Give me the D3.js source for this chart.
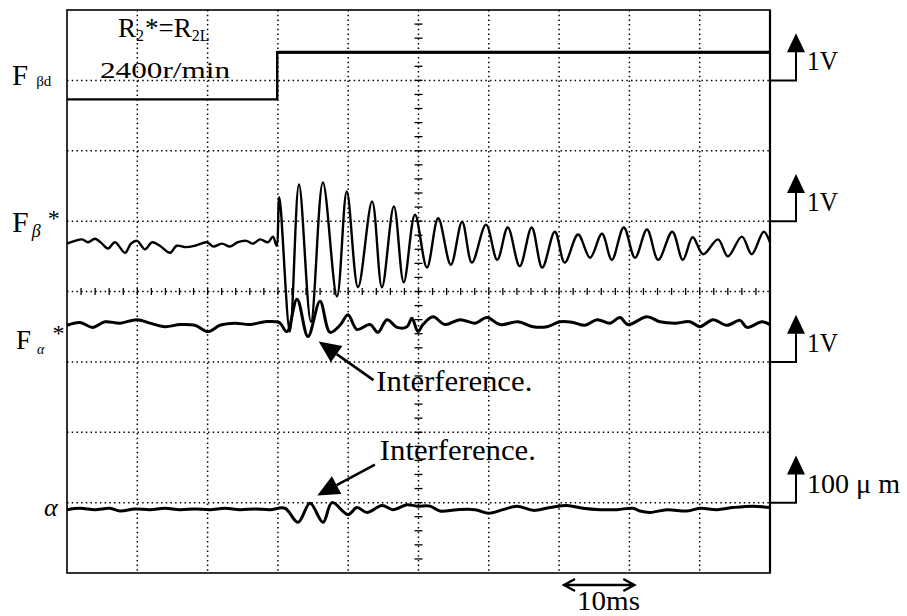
<!DOCTYPE html>
<html>
<head>
<meta charset="utf-8">
<script src="https://cdn.jsdelivr.net/npm/d3@7"></script>
<style>
  html, body { margin: 0; padding: 0; background: #fff; }
</style>
</head>
<body>
<svg id="chart" width="907" height="616" font-family="'Liberation Serif', 'DejaVu Serif', 'Times New Roman', serif"></svg>
<script>
// ---- Data: time in ms (10 ms per division), amplitude in screen divisions ----
const timeTicks = d3.range(10, 100, 10);
const divTicks = d3.range(-3, 4, 1);

// Command step F_beta_d
const fBetaD = [[0, 2.73], [29.9, 2.73], [29.9, 3.40], [100, 3.40]];

// Estimated F_beta*
const fBetaStar = [
  [0,0.68],[1.14,0.72],[2.13,0.74],[3.0,0.70],[3.98,0.75],[4.98,0.68],[5.83,0.61],[6.83,0.70],
  [8.25,0.55],[9.1,0.68],[9.96,0.72],[11.1,0.60],[12.1,0.70],[13.2,0.65],[14.65,0.55],[15.6,0.65],
  [16.9,0.63],[18.2,0.65],[19.9,0.70],[20.8,0.64],[22.05,0.68],[23.2,0.64],[24.3,0.70],[25.5,0.72],
  [26.45,0.68],[27.45,0.74],[28.6,0.70],[29.3,0.78],[29.8,0.65],
  [30.2,1.34],[31.7,-0.57],[33.0,1.52],[34.7,-0.43],[36.4,1.55],[38.4,-0.07],[39.8,1.42],[41.4,0.06],
  [43.4,1.28],[44.8,0.06],[46.5,1.21],[47.9,0.13],[49.5,1.09],[51.2,0.34],[52.8,1.04],[54.6,0.38],
  [56.2,0.99],[57.6,0.41],[59.6,0.95],[61.2,0.45],[62.7,0.91],[64.4,0.36],[66.1,0.91],[67.6,0.34],
  [69.4,0.85],[70.8,0.41],[72.7,0.81],[74.4,0.48],[76.1,0.82],[77.5,0.45],[79.2,0.91],[80.8,0.48],
  [82.5,0.88],[84.1,0.45],[86.1,0.85],[87.6,0.45],[89.0,0.77],[90.5,0.53],[92.6,0.74],[94.0,0.50],
  [96.0,0.78],[97.4,0.53],[99.1,0.85],[100,0.70]
];

// Estimated F_alpha*
const fAlphaStar = [
  [0,-0.48],[1.85,-0.44],[3.70,-0.51],[5.41,-0.43],[7.54,-0.45],[9.96,-0.40],[11.81,-0.45],[13.94,-0.50],
  [16.07,-0.47],[18.21,-0.48],[20.06,-0.57],[21.76,-0.48],[23.90,-0.45],[26.03,-0.47],[28.17,-0.43],
  [30.16,-0.44],[31.29,-0.57],[32.72,-0.11],[34.28,-0.64],[35.99,-0.14],[37.41,-0.58],[38.83,-0.48],
  [39.97,-0.33],[41.25,-0.54],[43.10,-0.47],[44.24,-0.58],[45.52,-0.40],[46.94,-0.51],[48.36,-0.50],
  [49.07,-0.38],[49.93,-0.57],[50.64,-0.47],[52.06,-0.36],[53.77,-0.47],[55.90,-0.40],[58.04,-0.45],
  [59.74,-0.37],[61.59,-0.47],[64.15,-0.43],[66.29,-0.50],[68.28,-0.50],[70.13,-0.43],[71.98,-0.44],
  [73.68,-0.48],[75.39,-0.40],[77.24,-0.45],[78.66,-0.37],[79.80,-0.47],[82.50,-0.36],[84.35,-0.43],
  [86.49,-0.45],[88.62,-0.43],[90.04,-0.50],[91.89,-0.40],[93.88,-0.48],[95.73,-0.41],[96.73,-0.51],
  [98.86,-0.43],[100,-0.47]
];

// Rotor displacement alpha
const alphaDisp = [
  [0,-3.10],[1.85,-3.08],[3.98,-3.10],[6.12,-3.08],[7.54,-3.12],[9.67,-3.09],[11.81,-3.10],[13.94,-3.08],
  [16.07,-3.10],[18.21,-3.09],[20.34,-3.10],[22.48,-3.08],[24.61,-3.10],[26.74,-3.09],[28.88,-3.10],
  [31.01,-3.08],[32.86,-3.28],[34.57,-3.01],[36.42,-3.28],[37.70,-3.00],[39.97,-3.17],[41.25,-3.07],
  [42.67,-3.14],[44.81,-3.04],[46.37,-3.10],[48.36,-3.03],[49.79,-3.05],[51.64,-3.05],[53.06,-3.12],
  [55.48,-3.10],[58.04,-3.10],[59.89,-3.15],[62.02,-3.10],[64.01,-3.05],[66.29,-3.11],[68.71,-3.07],
  [71.12,-3.04],[73.40,-3.08],[75.82,-3.10],[78.24,-3.10],[80.51,-3.08],[81.51,-3.12],[82.93,-3.14],
  [85.35,-3.10],[88.19,-3.12],[90.04,-3.08],[92.46,-3.10],[94.74,-3.07],[97.58,-3.05],[100,-3.07]
];

// Channel ground levels (divisions) and scale markers
const channelLevels = [3.0, 1.0, -1.0, -3.0];
const channelScales = ["1V", "1V", "1V", "100 μ m"];
const scaleWidths = [31, 31, 31, 93];

// Annotation arrows: [tail t, tail v, tip t, tip v]
const noteArrows = [[43.6, -1.26, 35.8, -0.71], [43.8, -2.46, 35.6, -2.90]];
const noteText = "Interference.";
const noteAnchors = [[44.0, -1.42], [44.5, -2.39]];

// Time scale bar (ms)
const timeBar = [70.7, 80.7];

// ---- Drawing ----
const svg = d3.select("#chart");
svg.append("rect").attr("width", 907).attr("height", 616).attr("fill", "#fff");

const x = d3.scaleLinear().domain([0, 100]).range([67, 770]);
const y = d3.scaleLinear().domain([-4, 4]).range([573, 10]);

const grid = svg.append("g").attr("stroke", "#000").attr("stroke-width", 1.5)
  .attr("stroke-dasharray", "1.5,3.2").attr("fill", "none");
grid.selectAll("line.v").data(timeTicks).join("line").attr("class", "v")
  .attr("x1", d => x(d)).attr("x2", d => x(d)).attr("y1", y(4)).attr("y2", y(-4));
grid.selectAll("line.h").data(divTicks).join("line").attr("class", "h")
  .attr("x1", x(0)).attr("x2", x(100)).attr("y1", d => y(d)).attr("y2", d => y(d));

// Minor ticks on the centre graticule lines
const minorT = d3.range(2, 100, 2);
const minorV = d3.range(-3.8, 4, 0.2);
const ticks = svg.append("g").attr("stroke", "#000").attr("stroke-width", 1.3);
ticks.selectAll("line.tx").data(minorT).join("line").attr("class", "tx")
  .attr("x1", d => x(d)).attr("x2", d => x(d)).attr("y1", y(0) - 3.5).attr("y2", y(0) + 3.5);
ticks.selectAll("line.ty").data(minorV).join("line").attr("class", "ty")
  .attr("x1", x(50) - 4).attr("x2", x(50) + 4).attr("y1", d => y(d)).attr("y2", d => y(d));

// Frame
svg.append("rect").attr("x", x(0)).attr("y", y(4)).attr("width", x(100) - x(0)).attr("height", y(-4) - y(4))
  .attr("fill", "none").attr("stroke", "#000").attr("stroke-width", 1.6);
svg.append("line").attr("x1", x(100)).attr("x2", x(100)).attr("y1", y(4)).attr("y2", y(-4))
  .attr("stroke", "#000").attr("stroke-width", 2.2);

// Traces
const smooth = d3.line().x(d => x(d[0])).y(d => y(d[1])).curve(d3.curveCatmullRom.alpha(0.5));
const straight = d3.line().x(d => x(d[0])).y(d => y(d[1]));
svg.append("path").attr("d", straight(fBetaD)).attr("fill", "none").attr("stroke", "#000").attr("stroke-width", 2.4);
svg.append("path").attr("d", straight(fBetaD.slice(2))).attr("fill", "none").attr("stroke", "#000").attr("stroke-width", 3.2);
svg.append("path").attr("d", smooth(fBetaStar)).attr("fill", "none").attr("stroke", "#000").attr("stroke-width", 2.4).attr("stroke-linejoin", "round");
svg.append("path").attr("d", smooth(fAlphaStar)).attr("fill", "none").attr("stroke", "#000").attr("stroke-width", 3).attr("stroke-linejoin", "round");
svg.append("path").attr("d", smooth(alphaDisp)).attr("fill", "none").attr("stroke", "#000").attr("stroke-width", 3).attr("stroke-linejoin", "round");

// Channel scale markers on the right
const armX = x(100) + 26;
const arrowLen = 0.67;
channelLevels.forEach((lv, i) => {
  const y0 = y(lv), yt = y(lv + arrowLen);
  svg.append("path").attr("d", `M${x(100)},${y0}H${armX}V${yt + 16}`)
    .attr("fill", "none").attr("stroke", "#000").attr("stroke-width", 2);
  svg.append("path").attr("d", `M${armX},${yt}L${armX - 9},${yt + 19}L${armX + 9},${yt + 19}Z`).attr("fill", "#000");
  svg.append("text").attr("x", armX + 11).attr("y", y0 - 10).attr("font-size", 27)
    .attr("textLength", scaleWidths[i]).attr("lengthAdjust", "spacingAndGlyphs")
    .text(channelScales[i]);
});

// Channel names on the left
const fBd = svg.append("text").attr("x", 12).attr("y", y(2.94));
fBd.append("tspan").attr("font-size", 29).text("F");
fBd.append("tspan").attr("font-size", 15).attr("dx", 8).attr("dy", 1).text("βd");

const fBs = svg.append("text").attr("x", 12).attr("y", y(0.85));
fBs.append("tspan").attr("font-size", 30).text("F");
fBs.append("tspan").attr("font-size", 18).attr("font-style", "italic").attr("dx", 3).attr("dy", 5).text("β");
fBs.append("tspan").attr("font-size", 24).attr("dx", 7).attr("dy", -11).text("*");

const fAs = svg.append("text").attr("x", 16).attr("y", y(-0.82));
fAs.append("tspan").attr("font-size", 27).text("F");
fAs.append("tspan").attr("font-size", 14).attr("font-style", "italic").attr("dx", 6).attr("dy", 5).text("α");
fAs.append("tspan").attr("font-size", 24).attr("dx", 8).attr("dy", -13).text("*");

svg.append("text").attr("x", 44).attr("y", y(-3.19)).attr("font-size", 26).attr("font-style", "italic").text("α");

// Operating condition text
const cond = svg.append("text").attr("x", 118).attr("y", 37).attr("font-size", 27);
cond.append("tspan").text("R");
cond.append("tspan").attr("font-size", 16).attr("dy", 4).text("2");
cond.append("tspan").attr("dy", -4).attr("dx", 1).text("*=R");
cond.append("tspan").attr("font-size", 16).attr("dy", 4).text("2L");
svg.append("text").attr("x", 100).attr("y", 78).attr("font-size", 24)
  .attr("textLength", 130).attr("lengthAdjust", "spacingAndGlyphs").text("2400r/min");

// Interference annotations
noteArrows.forEach(a => {
  const x1 = x(a[0]), y1 = y(a[1]), x2 = x(a[2]), y2 = y(a[3]);
  const ang = Math.atan2(y2 - y1, x2 - x1);
  const L = 22, W = 10;
  const bx = x2 - L * Math.cos(ang), by = y2 - L * Math.sin(ang);
  svg.append("line").attr("x1", x1).attr("y1", y1).attr("x2", bx).attr("y2", by)
    .attr("stroke", "#000").attr("stroke-width", 2.6);
  svg.append("path").attr("d",
    `M${x2},${y2}L${bx + W * Math.sin(ang)},${by - W * Math.cos(ang)}L${bx - W * Math.sin(ang)},${by + W * Math.cos(ang)}Z`)
    .attr("fill", "#000");
});
noteAnchors.forEach(p => {
  svg.append("text").attr("x", x(p[0])).attr("y", y(p[1])).attr("font-size", 29)
    .attr("textLength", 156).attr("lengthAdjust", "spacingAndGlyphs").text(noteText);
});

// Time scale bar
const tb0 = x(timeBar[0]), tb1 = x(timeBar[1]), tby = 585;
svg.append("path").attr("d",
  `M${tb0},${tby}H${tb1}M${tb0 + 11},${tby - 6}L${tb0},${tby}L${tb0 + 11},${tby + 6}M${tb1 - 11},${tby - 6}L${tb1},${tby}L${tb1 - 11},${tby + 6}`)
  .attr("fill", "none").attr("stroke", "#000").attr("stroke-width", 2.4);
svg.append("text").attr("x", 577).attr("y", 610).attr("font-size", 27)
  .attr("textLength", 63).attr("lengthAdjust", "spacingAndGlyphs").text("10ms");
</script>
</body>
</html>
